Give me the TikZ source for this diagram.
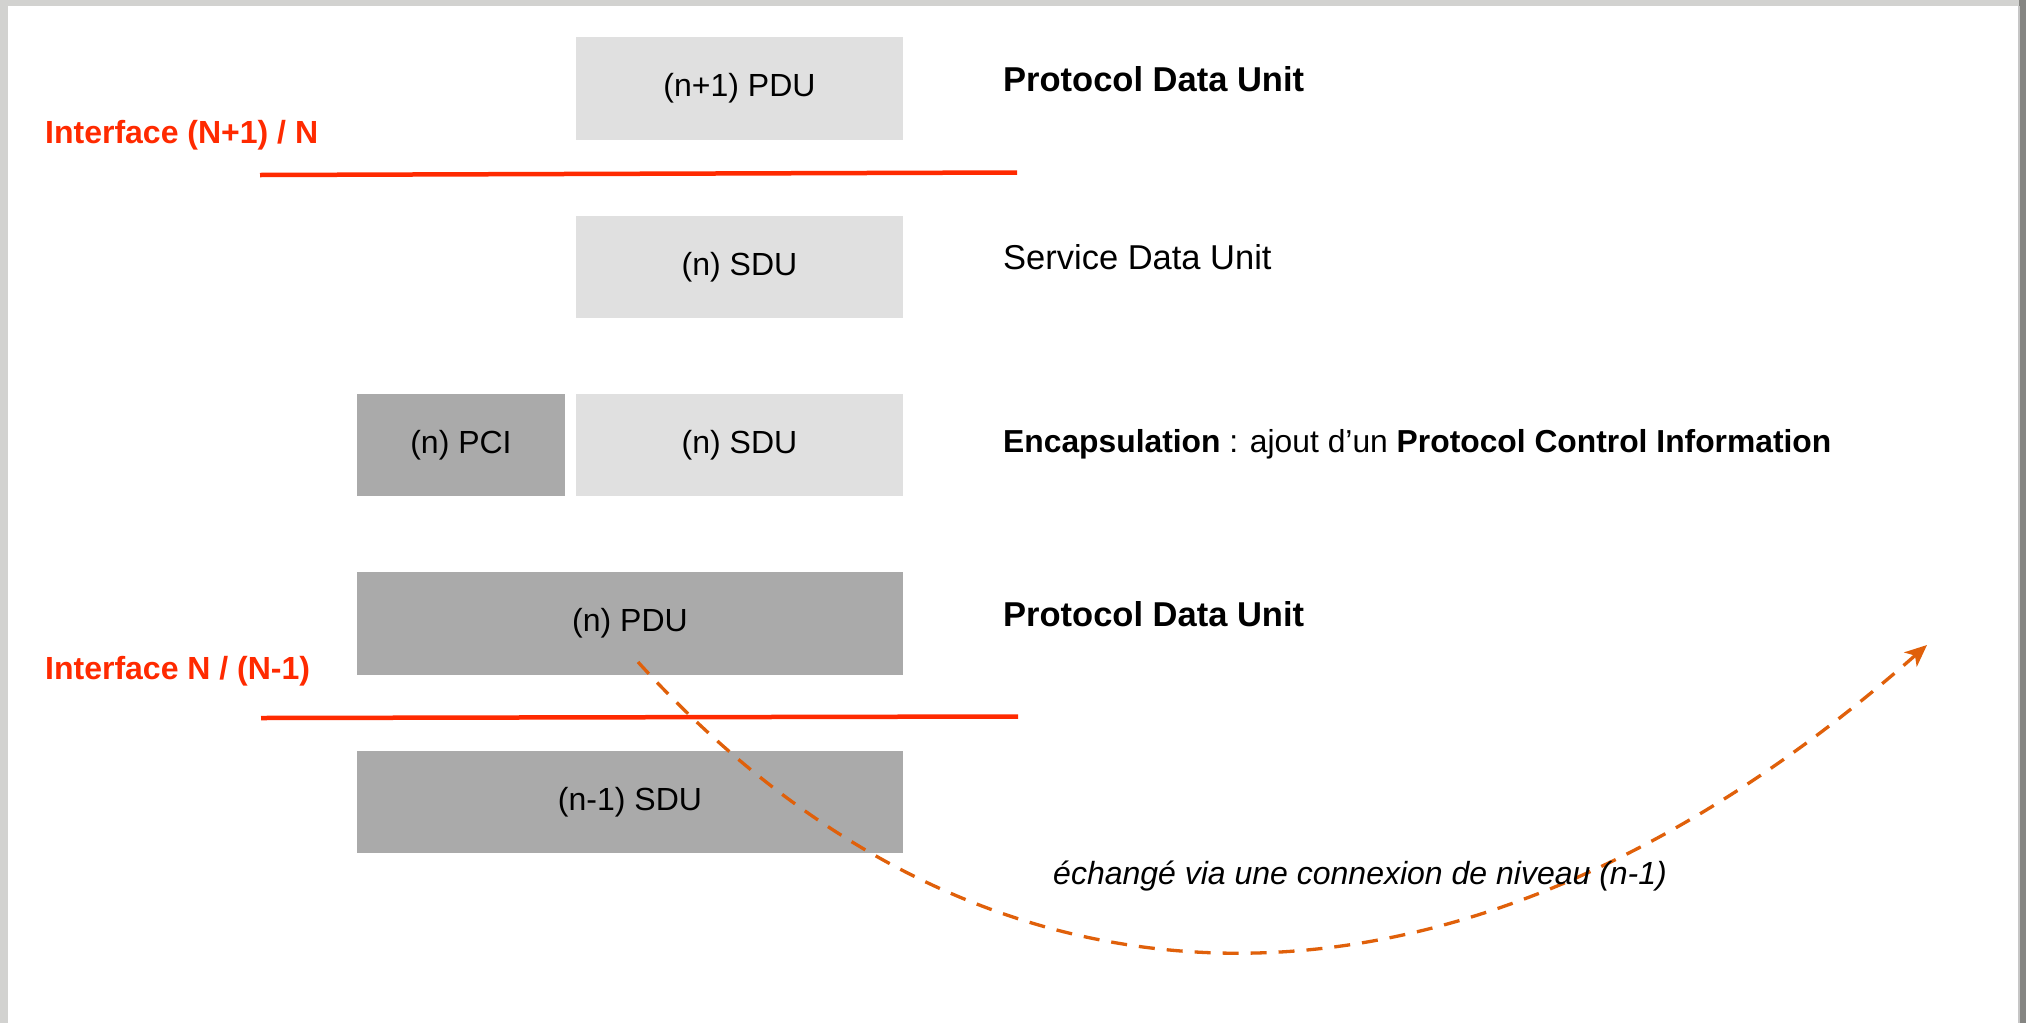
\documentclass[tikz,border=0pt]{standalone}
\usepackage{fontspec}
\setmainfont{Liberation Sans}
\usetikzlibrary{arrows.meta}
\definecolor{lightbox}{HTML}{E0E0E0}
\definecolor{darkbox}{HTML}{AAAAAA}
\definecolor{ifred}{HTML}{FF2A00}
\definecolor{dashorange}{HTML}{E0600A}
\definecolor{frameL}{HTML}{D2D2D0}
\definecolor{frameR}{HTML}{858582}
\tikzset{
  lbox/.style={fill=lightbox, draw=none, inner sep=0pt, font=\fontsize{32}{38}\selectfont},
  dbox/.style={fill=darkbox, draw=none, inner sep=0pt, font=\fontsize{32}{38}\selectfont},
  rtext/.style={anchor=base west, inner sep=0pt, font=\fontsize{34.5}{40}\selectfont},
  iflabel/.style={anchor=base west, inner sep=0pt, text=ifred, font=\bfseries\fontsize{32}{38}\selectfont},
  ifline/.style={draw=ifred, line width=4.5pt},
  exch/.style={draw=dashorange, line width=3.3pt, dash pattern=on 16pt off 12pt, -{Stealth[length=22pt,width=19pt,inset=6pt]}}
}
\begin{document}
\begin{tikzpicture}[x=1pt,y=-1pt]
\useasboundingbox (0,0) rectangle (2026,1023);
% window frame
\fill[frameL] (0,0) rectangle (2026,1023);
\fill[white] (8,6) rectangle (2018,1023);
\fill[frameR] (2019,0) rectangle (2026,1023);
\fill[gray!45] (2018,6) rectangle (2019.5,1023);
% boxes
\node[lbox, minimum width=327pt, minimum height=103pt] (pdu1) at (739.5,88.5) {(n+1) PDU};
\node[lbox, minimum width=327pt, minimum height=102pt] (sdu) at (739.5,267) {(n) SDU};
\node[dbox, minimum width=208pt, minimum height=102pt] (pci) at (461,445) {(n) PCI};
\node[lbox, minimum width=327pt, minimum height=102pt] (sdu2) at (739.5,445) {(n) SDU};
\node[dbox, minimum width=546pt, minimum height=103pt] (pdu) at (630,623.5) {(n) PDU};
\node[dbox, minimum width=546pt, minimum height=102pt] (sdum) at (630,802) {(n-1) SDU};
% interface labels and lines
\node[iflabel] (if1) at (45,143) {Interface (N+1) / N};
\node[iflabel] (if2) at (45,679) {Interface N / (N-1)};
\coordinate (l1a) at (260,175);
\coordinate (l1b) at (1017,172.5);
\coordinate (l2a) at (261,718);
\coordinate (l2b) at (1018,716.5);
\draw[ifline] (l1a) -- (l1b);
\draw[ifline] (l2a) -- (l2b);
% right descriptions
\node[rtext] (t1) at (1003,91) {\bfseries Protocol Data Unit};
\node[rtext] (t2) at (1003,269) {Service Data Unit};
\node[rtext, font=\fontsize{31.8}{38}\selectfont] (t3) at (1003,452) {\textbf{Encapsulation} : ajout d’un \textbf{Protocol Control Information}};
\node[rtext] (t4) at (1003,626) {\bfseries Protocol Data Unit};
% exchange arrow
\coordinate (xs) at (638,662);
\coordinate (xe) at (1927,645);
\draw[exch] (xs) .. controls (991,1050) and (1463,1053) .. (xe);
\node[anchor=base west, inner sep=0pt, font=\itshape\fontsize{32}{38}\selectfont] (xl) at (1053,884) {échangé via une connexion de niveau (n-1)};
\end{tikzpicture}
\end{document}
